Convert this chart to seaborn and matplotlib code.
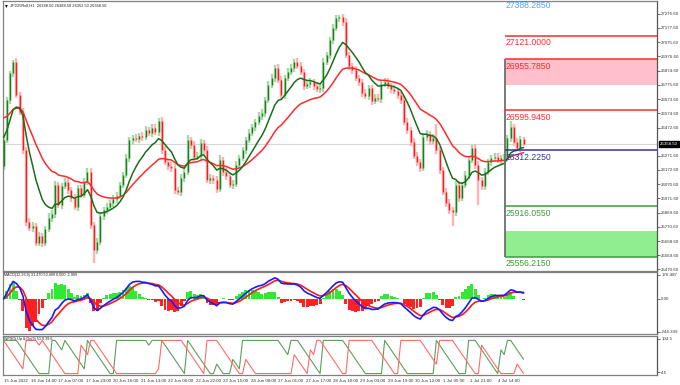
import numpy as np
import pandas as pd
import matplotlib
matplotlib.use("Agg")
import matplotlib.pyplot as plt
import seaborn as sns

# ---- data (JP225, H1, one candle here = 2 hourly bars) ----
header = "JP225Roll,H1  26388.50 26388.50 26352.50 26358.50"
first_open = 26200
closes = [
    26384, 26667, 26859, 26937, 26703, 26583, 26313, 25803, 25761, 25775,
    25655, 25704, 25655, 25754, 25832, 25860, 26066, 25924, 26058, 26087,
    26030, 25973, 25910, 26044, 25995, 26087, 26158, 25782, 25605, 25662,
    25846, 25888, 25910, 25938, 25966, 25988, 26066, 26136, 26257, 26384,
    26398, 26391, 26413, 26405, 26455, 26434, 26469, 26441, 26519, 26313,
    26228, 26200, 26186, 26030, 26016, 26115, 26158, 26384, 26349, 26264,
    26271, 26363, 26313, 26101, 26115, 26101, 26037, 26243, 26158, 26129,
    26066, 26073, 26207, 26257, 26313, 26384, 26434, 26476, 26512, 26554,
    26575, 26667, 26774, 26823, 26894, 26809, 26703, 26823, 26866, 26894,
    26937, 26908, 26866, 26767, 26781, 26795, 26767, 26745, 26752, 26937,
    26986, 27092, 27177, 27248, 27255, 27220, 26986, 26908, 26880, 26823,
    26795, 26717, 26696, 26752, 26660, 26682, 26675, 26781, 26795, 26767,
    26745, 26731, 26703, 26667, 26512, 26455, 26370, 26271, 26228, 26186,
    26405, 26427, 26377, 26398, 26313, 26172, 26016, 25938, 25888, 25874,
    26066, 25973, 26066, 26136, 26243, 26327, 26207, 26101, 26058, 26158,
    26228, 26257, 26264, 26243, 26257, 26257, 26398, 26476, 26370, 26327,
    26391, 26358.5,
]
upper_wick = [
    20, 25, 15, 15, 30, 20, 25, 20, 30, 25, 20, 30, 25, 20, 35, 25, 30, 20, 25, 30,
    25, 20, 30, 25, 20, 30, 30, 25, 20, 30, 25, 20, 25, 20, 30, 25, 20, 25, 30, 20,
    25, 30, 20, 25, 30, 20, 25, 30, 20, 25, 30, 20, 25, 30, 20, 25, 30, 35, 20, 25,
    30, 25, 20, 30, 25, 20, 30, 35, 20, 25, 20, 25, 30, 20, 25, 20, 30, 25, 20, 25,
    30, 20, 25, 30, 20, 25, 30, 20, 25, 30, 20, 25, 30, 20, 25, 30, 20, 25, 30, 25,
    20, 25, 30, 20, 15, 25, 30, 20, 25, 30, 25, 20, 30, 25, 20, 30, 25, 20, 30, 25,
    20, 30, 25, 20, 30, 25, 20, 30, 25, 20, 30, 25, 20, 30, 100, 25, 20, 30, 25, 20,
    30, 25, 20, 30, 25, 20, 30, 25, 20, 30, 25, 20, 30, 25, 20, 30, 25, 40, 20, 25,
    20, 15,
]
lower_wick = [
    25, 20, 25, 30, 20, 25, 30, 25, 20, 30, 25, 20, 30, 25, 20, 25, 30, 20, 25, 20,
    30, 25, 20, 30, 25, 20, 25, 30, 90, 25, 20, 30, 25, 20, 25, 30, 20, 25, 20, 30,
    25, 20, 30, 25, 20, 25, 30, 20, 25, 30, 20, 25, 30, 25, 20, 30, 25, 20, 30, 25,
    20, 25, 30, 20, 25, 30, 25, 20, 30, 25, 20, 30, 25, 20, 25, 30, 20, 25, 30, 20,
    25, 30, 20, 25, 30, 20, 25, 30, 20, 25, 30, 20, 25, 30, 20, 25, 30, 20, 25, 30,
    20, 25, 30, 20, 25, 30, 20, 25, 30, 20, 25, 30, 20, 25, 30, 20, 25, 30, 20, 25,
    30, 20, 25, 30, 20, 25, 30, 20, 25, 30, 20, 25, 30, 20, 25, 30, 20, 25, 30, 100,
    25, 30, 20, 25, 30, 20, 25, 180, 30, 25, 20, 30, 25, 20, 30, 25, 20, 30, 25, 20,
    25, 20,
]
ma_fast_seed = 26405
ma_slow_seed = 26554
last_price = 26358.50

time_labels = ["15 Jun 2022", "16 Jun 14:00", "17 Jun 07:00", "17 Jun 23:00",
               "20 Jun 16:00", "21 Jun 13:00", "22 Jun 06:00", "22 Jun 22:00",
               "23 Jun 15:00", "24 Jun 08:00", "27 Jun 01:00", "27 Jun 17:00",
               "28 Jun 10:00", "29 Jun 03:00", "29 Jun 19:00", "30 Jun 12:00",
               "1 Jul 05:00", "1 Jul 21:00", "4 Jul 14:00"]
price_ticks = [27276.60, 27177.60, 27075.60, 26976.60, 26874.60, 26775.60,
               26673.60, 26574.60, 26472.60, 26271.60, 26172.60, 26070.60,
               25971.60, 25869.60, 25770.60, 25668.60, 25569.60, 25470.60]

levels = [27388.285, 27121.0, 26955.785, 26595.945, 26312.225, 25916.055, 25556.215]
level_colors = ["#4da3ff", "#ff2b2b", "#ff2b2b", "#ff2b2b", "#33339a", "#3c9c3c", "#3c9c3c"]
pink_zone = [26775.0, 26955.785]
green_zone = [25556.215, 25740.0]

macd_title = "MACD(12,26,9) 31.470 53.409 0.000 -1.989"
macd_ticks = [176.487, 0.0, -244.399]
aroon_title = "WPSOt Up & Dn(9) 51.0 39.6"
aroon_ticks = [104.5, 4.5]

# ---- derived series ----
c = np.array(closes, dtype=float)
o = np.r_[first_open, c[:-1]]
h = np.maximum(o, c) + np.array(upper_wick)
l = np.minimum(o, c) - np.array(lower_wick)
idx = np.arange(len(c))


def ema_seeded(values, span, seed):
    a = 2.0 / (span + 1)
    out = np.empty(len(values))
    prev = seed
    for k, v in enumerate(values):
        prev = prev + a * (v - prev)
        out[k] = prev
    return out


ma_fast = ema_seeded(c, 10, ma_fast_seed)
ma_slow = ema_seeded(c, 25, ma_slow_seed)

s = pd.Series(c)
macd = s.ewm(span=6, adjust=False).mean() - s.ewm(span=13, adjust=False).mean()
signal = macd.ewm(span=4.5, adjust=False).mean()
hist = 2.2 * (macd - signal)  # histogram drawn magnified, as in the terminal

period = 7
since_hi = pd.Series(h).rolling(period + 1, min_periods=1).apply(lambda w: len(w) - 1 - np.argmax(w), raw=True)
since_lo = pd.Series(l).rolling(period + 1, min_periods=1).apply(lambda w: len(w) - 1 - np.argmin(w), raw=True)
aroon_up = 100 * (period - since_hi) / period
aroon_dn = 100 * (period - since_lo) / period

# ---- figure ----
sns.set_theme(style="white")
plt.rcParams["font.family"] = ["Liberation Sans", "DejaVu Sans"]

W, H = 680, 385
fig = plt.figure(figsize=(6.8, 3.85), dpi=100)
fig.patch.set_facecolor("white")


def px_axes(x0, y0, x1, y1):
    return fig.add_axes([x0 / W, 1 - y1 / H, (x1 - x0) / W, (y1 - y0) / H])


ax_p = px_axes(2.5, 1, 657, 270.5)
ax_m = px_axes(2.5, 272, 657, 334)
ax_a = px_axes(2.5, 336, 657, 375)

xlim = (-0.31, 202.3)
for ax in (ax_p, ax_m, ax_a):
    ax.set_xlim(*xlim)
    ax.set_facecolor("white")
    for sp in ax.spines.values():
        sp.set_color("#808080")
        sp.set_linewidth(0.9)
    ax.spines["right"].set_color("#555555")
    ax.yaxis.tick_right()
    ax.tick_params(axis="y", which="both", labelsize=3.2, length=2, width=0.5,
                   pad=1, colors="#333333", direction="out")
    ax.tick_params(axis="x", length=0, labelbottom=False)
    ax.grid(False)

# main price panel
ax_p.set_ylim(25460.0, 27368.6)
up = c >= o
pale = np.where(up, "#a9d8a9", "#ffb3b3")
body = np.where(up, "#1b7f1b", "#ff1a1a")
ax_p.vlines(idx, l, h, colors=pale, linewidth=1.7, zorder=2)
ax_p.vlines(idx, o, c, colors=body, linewidth=1.05, zorder=3)
ax_p.axhline(last_price, color="#d6d6d6", lw=0.8, zorder=1)

sns.lineplot(x=idx, y=ma_slow, ax=ax_p, color="#ff2a2a", lw=1.1, zorder=4)
sns.lineplot(x=idx, y=ma_fast, ax=ax_p, color="#1a6e1a", lw=1.1, zorder=4)

zone_x = 155.3
ax_p.fill_between([zone_x, xlim[1]], pink_zone[0], pink_zone[1], color="#ffc0cb", lw=0, zorder=1)
ax_p.fill_between([zone_x, xlim[1]], green_zone[0], green_zone[1], color="#90ee90", lw=0, zorder=1)
ax_p.vlines(zone_x, levels[-1], levels[2], colors="#6e6e6e", lw=1.3, zorder=5)
for lv, col in zip(levels, level_colors):
    ax_p.hlines(lv, zone_x, xlim[1], colors=col, lw=1.1, zorder=5)
    ax_p.annotate(f"{lv:.4f}", xy=(zone_x, lv), xytext=(0.3, -1.8), textcoords="offset points",
                  ha="left", va="top", fontsize=6.2, color=col, zorder=6,
                  annotation_clip=False, clip_on=True)

ax_p.set_yticks(price_ticks)
ax_p.set_yticklabels([f"{t:.2f}" for t in price_ticks])
ax_p.annotate(f"{last_price:.2f}", xy=(1, last_price), xycoords=ax_p.get_yaxis_transform(),
              xytext=(2.2, 0), textcoords="offset points", ha="left", va="center",
              fontsize=3.2, color="white", annotation_clip=False,
              bbox=dict(boxstyle="square,pad=0.25", fc="black", ec="black"))
ax_p.text(0.004, 0.992, "\u25be", transform=ax_p.transAxes, fontsize=4, va="top", ha="left",
          color="black", family=["DejaVu Sans"])
ax_p.text(0.0115, 0.99, header, transform=ax_p.transAxes, fontsize=2.9, va="top", ha="left",
          color="#222222")
ax_p.set_ylabel("")

# MACD panel
ax_m.set_ylim(-259.2, 198.6)
ax_m.bar(idx, hist, width=0.9, color=np.where(hist >= 0, "#33e833", "#ff2222"), lw=0, zorder=2)
sns.lineplot(x=idx, y=signal, ax=ax_m, color="#ff1a1a", lw=1.2, zorder=3)
sns.lineplot(x=idx, y=macd, ax=ax_m, color="#1a1aff", lw=1.2, zorder=3)
ax_m.set_yticks(macd_ticks)
ax_m.set_yticklabels(["176.487", "0.00", "-244.399"])
ax_m.text(0.002, 0.985, macd_title, transform=ax_m.transAxes, fontsize=2.7, va="top", ha="left",
          color="#222222")
ax_m.set_ylabel("")

# Aroon-style panel
ax_a.set_ylim(-4.3, 113.3)
sns.lineplot(x=idx, y=aroon_up, ax=ax_a, color="#5c9e5c", lw=0.8)
sns.lineplot(x=idx, y=aroon_dn, ax=ax_a, color="#ff6b6b", lw=0.8)
ax_a.set_yticks(aroon_ticks)
ax_a.set_yticklabels(["104.5", "4.5"])
ax_a.text(0.002, 0.97, aroon_title, transform=ax_a.transAxes, fontsize=2.7, va="top", ha="left",
          color="#222222")
ax_a.set_ylabel("")

tick_pos = np.arange(len(time_labels)) * 8.5
ax_a.set_xticks(tick_pos)
ax_a.set_xticklabels(time_labels, ha="left")
ax_a.tick_params(axis="x", labelbottom=True, labelsize=3.2, length=2, width=0.5, pad=1,
                 colors="#333333", direction="out")

fig.savefig("out.png", dpi=100, facecolor="white")
